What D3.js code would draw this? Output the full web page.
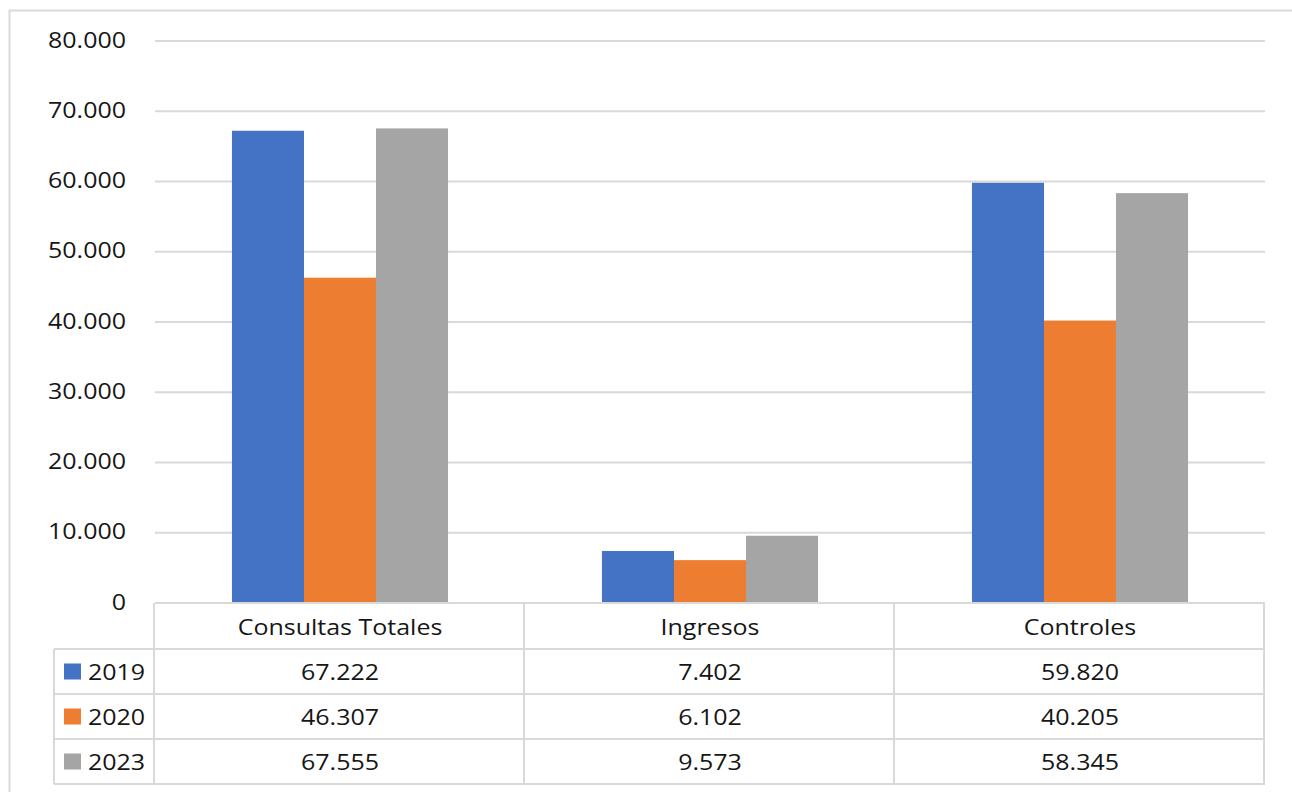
<!DOCTYPE html>
<html><head><meta charset="utf-8">
<script src="https://cdn.jsdelivr.net/npm/d3@7"></script>
<style>body{margin:0;background:#fff;}svg{display:block;}</style>
</head><body>
<script>
const categories = ["Consultas Totales", "Ingresos", "Controles"];
const seriesNames = ["2019", "2020", "2023"];
const values2019 = [67222, 7402, 59820];
const values2020 = [46307, 6102, 40205];
const values2023 = [67555, 9573, 58345];
const valueLabels2019 = ["67.222", "7.402", "59.820"];
const valueLabels2020 = ["46.307", "6.102", "40.205"];
const valueLabels2023 = ["67.555", "9.573", "58.345"];
const yTicks = [0, 10000, 20000, 30000, 40000, 50000, 60000, 70000, 80000];
const colors = ["#4472C4", "#ED7D31", "#A5A5A5"];

const series = [
  {name: seriesNames[0], values: values2019, labels: valueLabels2019, color: colors[0]},
  {name: seriesNames[1], values: values2020, labels: valueLabels2020, color: colors[1]},
  {name: seriesNames[2], values: values2023, labels: valueLabels2023, color: colors[2]}
];

const W = 1292, H = 792;
const pLeft = 155, pRight = 1265, pTop = 41, pBottom = 603;
const rowH = 45;
const legendLeft = 54;
const SX = 1.19;
const font = "'Open Sans', sans-serif";
const textColor = "#161616";
const lineColor = "#d9d9d9";

const svg = d3.select("body").append("svg").attr("width", W).attr("height", H);

// outer chart border
svg.append("rect").attr("x", 9.5).attr("y", 10.5).attr("width", W + 20).attr("height", H + 20)
  .attr("fill", "none").attr("stroke", lineColor).attr("stroke-width", 2);

const y = d3.scaleLinear().domain([0, 80000]).range([pBottom, pTop]);
const x0 = d3.scaleBand().domain(categories).range([pLeft, pRight]).paddingInner(0.416).paddingOuter(0.208);
const bandStep = x0.step();
const x1 = d3.scaleBand().domain(seriesNames).range([0, x0.bandwidth()]);

function txt(g, str, xPos, yPos, anchor, size) {
  g.append("text")
    .attr("transform", `translate(${xPos},${yPos}) scale(${SX},1)`)
    .attr("text-anchor", anchor)
    .attr("dominant-baseline", "central")
    .attr("font-family", font)
    .attr("font-size", size || 21)
    .attr("fill", textColor)
    .text(str);
}

// gridlines
const grid = svg.append("g");
yTicks.filter(t => t > 0).forEach(t => {
  grid.append("line").attr("x1", pLeft).attr("x2", pRight).attr("y1", y(t)).attr("y2", y(t))
    .attr("stroke", lineColor).attr("stroke-width", 2);
});

// y axis labels
const yAxis = d3.axisLeft(y).tickValues(yTicks).tickSize(0).tickPadding(0)
  .tickFormat(d => d3.format(",")(d).replace(/,/g, "."));
const yAxisG = svg.append("g").attr("transform", `translate(126,-2)`).call(yAxis);
yAxisG.select(".domain").remove();
yAxisG.selectAll(".tick text")
  .attr("x", 0).attr("dy", null)
  .attr("dominant-baseline", "central")
  .attr("transform", `scale(${SX},1)`)
  .attr("font-family", font).attr("font-size", 21).attr("fill", textColor)
  .attr("text-anchor", "end");

// bars
const groups = svg.append("g").selectAll("g").data(categories).join("g")
  .attr("transform", d => `translate(${x0(d)},0)`);
groups.selectAll("rect").data((c, i) => series.map(s => ({s, v: s.values[i]}))).join("rect")
  .attr("x", d => x1(d.s.name))
  .attr("width", x1.bandwidth())
  .attr("y", d => y(d.v))
  .attr("height", d => y(0) - y(d.v))
  .attr("fill", d => d.s.color);

// axis baseline
svg.append("line").attr("x1", pLeft).attr("x2", pRight).attr("y1", pBottom).attr("y2", pBottom)
  .attr("stroke", lineColor).attr("stroke-width", 2);

// data table
const table = svg.append("g");
const boundaries = [pLeft, pLeft + bandStep, pLeft + 2 * bandStep, pRight];
for (let r = 0; r <= 4; r++) {
  const yy = pBottom + r * rowH + (r === 0 ? 0 : 1);
  table.append("line").attr("x1", r === 0 ? pLeft : legendLeft).attr("x2", pRight)
    .attr("y1", yy).attr("y2", yy).attr("stroke", lineColor).attr("stroke-width", 2);
}
boundaries.forEach(bx => {
  table.append("line").attr("x1", bx - 1).attr("x2", bx - 1).attr("y1", pBottom).attr("y2", pBottom + 4 * rowH + 1)
    .attr("stroke", lineColor).attr("stroke-width", 2);
});
table.append("line").attr("x1", legendLeft).attr("x2", legendLeft)
  .attr("y1", pBottom + rowH + 1).attr("y2", pBottom + 4 * rowH + 1)
  .attr("stroke", lineColor).attr("stroke-width", 2);

categories.forEach(c => txt(table, c, x0(c) + x0.bandwidth() / 2, pBottom + rowH / 2 + 1, "middle"));
series.forEach((s, r) => {
  const cy = pBottom + (r + 1) * rowH + rowH / 2 + 1;
  table.append("rect").attr("x", 64).attr("y", cy - 8).attr("width", 17).attr("height", 16).attr("fill", s.color);
  txt(table, s.name, 88, cy, "start");
  categories.forEach((c, i) => txt(table, s.labels[i], x0(c) + x0.bandwidth() / 2, cy, "middle"));
});
</script>
</body></html>
